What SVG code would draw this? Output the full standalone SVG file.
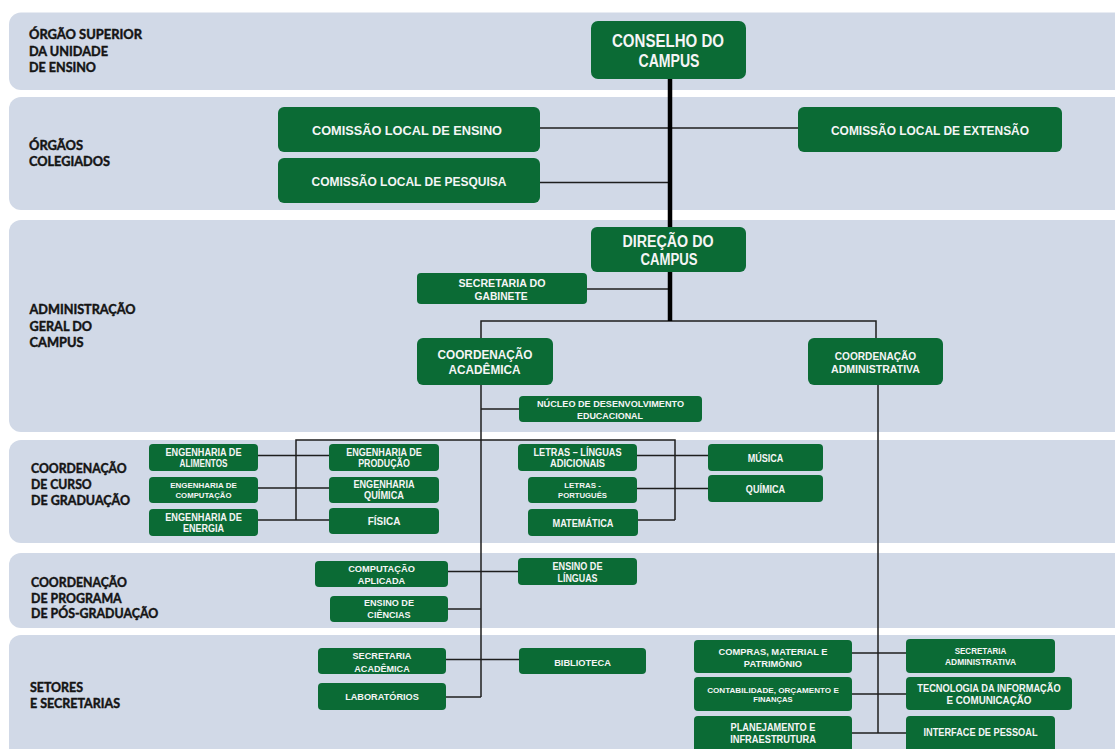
<svg xmlns="http://www.w3.org/2000/svg" width="1115" height="749" viewBox="0 0 1115 749">
<style>
.band{fill:#d1d9e7}
.box{fill:#0b6b35}
.t{font-family:"Liberation Sans",Arial,sans-serif;font-weight:bold;fill:#f5f5f5;text-anchor:middle}
.lbl{font-family:Lato,"Liberation Sans",sans-serif;font-weight:bold;font-size:13.5px;fill:#141414;stroke:#141414;stroke-width:0.45}
.c{stroke:#1e1e1e;stroke-width:1.5;fill:none}
.thick{stroke:#000;stroke-width:4.5;fill:none}
</style>
<rect width="1115" height="749" fill="#fff"/>
<g id="bands">
<rect class="band" x="9" y="12.5" width="1120" height="77.5" rx="12"/>
<rect class="band" x="9" y="97" width="1120" height="113" rx="12"/>
<rect class="band" x="9" y="220" width="1120" height="212" rx="12"/>
<rect class="band" x="9" y="440" width="1120" height="103" rx="12"/>
<rect class="band" x="9" y="553" width="1120" height="75" rx="12"/>
<rect class="band" x="9" y="635" width="1120" height="130" rx="12"/>
</g>
<g id="labels">
<text class="lbl" x="29" y="39.3" textLength="113" lengthAdjust="spacingAndGlyphs">ÓRGÃO SUPERIOR</text>
<text class="lbl" x="29" y="56" textLength="79" lengthAdjust="spacingAndGlyphs">DA UNIDADE</text>
<text class="lbl" x="29" y="71.7" textLength="67" lengthAdjust="spacingAndGlyphs">DE ENSINO</text>
<text class="lbl" x="29" y="150" textLength="54" lengthAdjust="spacingAndGlyphs">ÓRGÃOS</text>
<text class="lbl" x="29" y="166" textLength="81" lengthAdjust="spacingAndGlyphs">COLEGIADOS</text>
<text class="lbl" x="29.5" y="314.3" textLength="106" lengthAdjust="spacingAndGlyphs">ADMINISTRAÇÃO</text>
<text class="lbl" x="29.5" y="330.7" textLength="62.5" lengthAdjust="spacingAndGlyphs">GERAL DO</text>
<text class="lbl" x="29.5" y="346.7" textLength="54" lengthAdjust="spacingAndGlyphs">CAMPUS</text>
<text class="lbl" x="31" y="472.7" textLength="95.7" lengthAdjust="spacingAndGlyphs">COORDENAÇÃO</text>
<text class="lbl" x="31" y="489" textLength="60.7" lengthAdjust="spacingAndGlyphs">DE CURSO</text>
<text class="lbl" x="31" y="505" textLength="99" lengthAdjust="spacingAndGlyphs">DE GRADUAÇÃO</text>
<text class="lbl" x="31" y="586.7" textLength="96" lengthAdjust="spacingAndGlyphs">COORDENAÇÃO</text>
<text class="lbl" x="31" y="602.7" textLength="90.7" lengthAdjust="spacingAndGlyphs">DE PROGRAMA</text>
<text class="lbl" x="31" y="618.3" textLength="127.3" lengthAdjust="spacingAndGlyphs">DE PÓS-GRADUAÇÃO</text>
<text class="lbl" x="30" y="691.7" textLength="53" lengthAdjust="spacingAndGlyphs">SETORES</text>
<text class="lbl" x="30" y="707.7" textLength="90" lengthAdjust="spacingAndGlyphs">E SECRETARIAS</text>
</g>
<g id="connectors">
<line class="c" x1="540" y1="128" x2="798" y2="128"/>
<line class="c" x1="540" y1="182.5" x2="670" y2="182.5"/>
<line class="c" x1="587" y1="289" x2="670" y2="289"/>
<polyline class="c" points="481,338 481,321 876,321 876,338"/>
<line class="c" x1="481" y1="385" x2="481" y2="697"/>
<line class="c" x1="481" y1="409" x2="519" y2="409"/>
<polyline class="c" points="296,520 296,440 675,440 675,520"/>
<line class="c" x1="258" y1="455.5" x2="329" y2="455.5"/>
<line class="c" x1="258" y1="488" x2="329" y2="488"/>
<line class="c" x1="258" y1="520" x2="329" y2="520"/>
<line class="c" x1="637" y1="455.5" x2="708" y2="455.5"/>
<line class="c" x1="637" y1="488.5" x2="708" y2="488.5"/>
<line class="c" x1="638" y1="520" x2="675" y2="520"/>
<line class="c" x1="448" y1="571.5" x2="518" y2="571.5"/>
<line class="c" x1="448" y1="609" x2="481" y2="609"/>
<line class="c" x1="446" y1="659.5" x2="519" y2="659.5"/>
<line class="c" x1="446" y1="697" x2="481" y2="697"/>
<line class="c" x1="878" y1="385" x2="878" y2="733"/>
<line class="c" x1="852" y1="653" x2="906" y2="653"/>
<line class="c" x1="852" y1="694" x2="906" y2="694"/>
<line class="c" x1="852" y1="733" x2="906" y2="733"/>
<line class="thick" x1="670" y1="79" x2="670" y2="321"/>
</g>
<g id="n-conselho"><rect class="box" x="591" y="21" width="155" height="58" rx="7"/>
<text class="t" font-size="18" x="668" y="46.5" textLength="112" lengthAdjust="spacingAndGlyphs">CONSELHO DO</text>
<text class="t" font-size="18" x="669" y="66.5" textLength="61" lengthAdjust="spacingAndGlyphs">CAMPUS</text></g>
<g id="n-ensino"><rect class="box" x="278" y="107" width="262" height="45" rx="6"/>
<text class="t" font-size="12.5" x="407" y="135" textLength="190" lengthAdjust="spacingAndGlyphs">COMISSÃO LOCAL DE ENSINO</text></g>
<g id="n-pesquisa"><rect class="box" x="278" y="158" width="262" height="45" rx="6"/>
<text class="t" font-size="12.5" x="409" y="186" textLength="195" lengthAdjust="spacingAndGlyphs">COMISSÃO LOCAL DE PESQUISA</text></g>
<g id="n-extensao"><rect class="box" x="798" y="107" width="264" height="45" rx="6"/>
<text class="t" font-size="12.5" x="930" y="135" textLength="198" lengthAdjust="spacingAndGlyphs">COMISSÃO LOCAL DE EXTENSÃO</text></g>
<g id="n-direcao"><rect class="box" x="591" y="227" width="155" height="45" rx="6"/>
<text class="t" font-size="16" x="668" y="247" textLength="91" lengthAdjust="spacingAndGlyphs">DIREÇÃO DO</text>
<text class="t" font-size="16" x="669" y="265" textLength="57" lengthAdjust="spacingAndGlyphs">CAMPUS</text></g>
<g id="n-gabinete"><rect class="box" x="417" y="273" width="170" height="31" rx="4"/>
<text class="t" font-size="10" x="502" y="286.5" textLength="87" lengthAdjust="spacingAndGlyphs">SECRETARIA DO</text>
<text class="t" font-size="10" x="501" y="300" textLength="53" lengthAdjust="spacingAndGlyphs">GABINETE</text></g>
<g id="n-academica"><rect class="box" x="417" y="338" width="136" height="47" rx="6"/>
<text class="t" font-size="13" x="485" y="359.3" textLength="95" lengthAdjust="spacingAndGlyphs">COORDENAÇÃO</text>
<text class="t" font-size="13" x="484.5" y="374.3" textLength="72" lengthAdjust="spacingAndGlyphs">ACADÊMICA</text></g>
<g id="n-administrativa"><rect class="box" x="808" y="338" width="135" height="47" rx="6"/>
<text class="t" font-size="10.5" x="875.5" y="360" textLength="81.5" lengthAdjust="spacingAndGlyphs">COORDENAÇÃO</text>
<text class="t" font-size="10.5" x="875.5" y="373.3" textLength="89" lengthAdjust="spacingAndGlyphs">ADMINISTRATIVA</text></g>
<g id="n-nucleo"><rect class="box" x="519" y="396" width="183" height="26" rx="4"/>
<text class="t" font-size="9" x="610.5" y="407.3" textLength="147" lengthAdjust="spacingAndGlyphs">NÚCLEO DE DESENVOLVIMENTO</text>
<text class="t" font-size="9" x="610" y="418.7" textLength="66" lengthAdjust="spacingAndGlyphs">EDUCACIONAL</text></g>
<g id="n-eng-alimentos"><rect class="box" x="149" y="444" width="109" height="27" rx="4"/>
<text class="t" font-size="10.5" x="203.5" y="456" textLength="76" lengthAdjust="spacingAndGlyphs">ENGENHARIA DE</text>
<text class="t" font-size="10.5" x="203.5" y="467" textLength="48" lengthAdjust="spacingAndGlyphs">ALIMENTOS</text></g>
<g id="n-eng-computacao"><rect class="box" x="149" y="477" width="109" height="26" rx="4"/>
<text class="t" font-size="8" x="203.5" y="487.7" textLength="66.7" lengthAdjust="spacingAndGlyphs">ENGENHARIA DE</text>
<text class="t" font-size="8" x="203.5" y="498.3" textLength="56" lengthAdjust="spacingAndGlyphs">COMPUTAÇÃO</text></g>
<g id="n-eng-energia"><rect class="box" x="149" y="509" width="109" height="27" rx="4"/>
<text class="t" font-size="10.5" x="203.5" y="520.7" textLength="76.7" lengthAdjust="spacingAndGlyphs">ENGENHARIA DE</text>
<text class="t" font-size="10.5" x="203.5" y="531.7" textLength="41" lengthAdjust="spacingAndGlyphs">ENERGIA</text></g>
<g id="n-eng-producao"><rect class="box" x="329" y="444" width="110" height="27" rx="4"/>
<text class="t" font-size="10.5" x="384" y="456" textLength="75.7" lengthAdjust="spacingAndGlyphs">ENGENHARIA DE</text>
<text class="t" font-size="10.5" x="384" y="467" textLength="51.7" lengthAdjust="spacingAndGlyphs">PRODUÇÃO</text></g>
<g id="n-eng-quimica"><rect class="box" x="329" y="477" width="110" height="26" rx="4"/>
<text class="t" font-size="10.5" x="384" y="487.7" textLength="61" lengthAdjust="spacingAndGlyphs">ENGENHARIA</text>
<text class="t" font-size="10.5" x="384" y="499.3" textLength="40" lengthAdjust="spacingAndGlyphs">QUÍMICA</text></g>
<g id="n-fisica"><rect class="box" x="329" y="508" width="110" height="26" rx="4"/>
<text class="t" font-size="10.5" x="384" y="524.5" textLength="32.7" lengthAdjust="spacingAndGlyphs">FÍSICA</text></g>
<g id="n-letras-linguas"><rect class="box" x="518" y="444" width="119" height="27" rx="4"/>
<text class="t" font-size="10" x="577.5" y="455.7" textLength="88" lengthAdjust="spacingAndGlyphs">LETRAS – LÍNGUAS</text>
<text class="t" font-size="10" x="577.5" y="467.3" textLength="55" lengthAdjust="spacingAndGlyphs">ADICIONAIS</text></g>
<g id="n-letras-portugues"><rect class="box" x="528" y="477" width="109" height="26" rx="4"/>
<text class="t" font-size="8" x="582.5" y="488.3" textLength="36.7" lengthAdjust="spacingAndGlyphs">LETRAS -</text>
<text class="t" font-size="8" x="582.5" y="498.3" textLength="49" lengthAdjust="spacingAndGlyphs">PORTUGUÊS</text></g>
<g id="n-matematica"><rect class="box" x="528" y="509" width="110" height="27" rx="4"/>
<text class="t" font-size="10" x="583" y="526.7" textLength="61" lengthAdjust="spacingAndGlyphs">MATEMÁTICA</text></g>
<g id="n-musica"><rect class="box" x="708" y="444" width="115" height="27" rx="4"/>
<text class="t" font-size="10" x="765.5" y="462.3" textLength="35.7" lengthAdjust="spacingAndGlyphs">MÚSICA</text></g>
<g id="n-quimica"><rect class="box" x="708" y="475" width="115" height="27" rx="4"/>
<text class="t" font-size="10" x="765.5" y="492.7" textLength="39.3" lengthAdjust="spacingAndGlyphs">QUÍMICA</text></g>
<g id="n-computacao-aplicada"><rect class="box" x="315" y="561" width="133" height="26" rx="4"/>
<text class="t" font-size="9.5" x="381.5" y="571.7" textLength="66.7" lengthAdjust="spacingAndGlyphs">COMPUTAÇÃO</text>
<text class="t" font-size="9.5" x="381.5" y="584.3" textLength="47.3" lengthAdjust="spacingAndGlyphs">APLICADA</text></g>
<g id="n-ensino-ciencias"><rect class="box" x="330" y="596" width="118" height="26" rx="4"/>
<text class="t" font-size="9.5" x="389" y="606" textLength="50" lengthAdjust="spacingAndGlyphs">ENSINO DE</text>
<text class="t" font-size="9.5" x="389" y="617.7" textLength="43.3" lengthAdjust="spacingAndGlyphs">CIÊNCIAS</text></g>
<g id="n-ensino-linguas"><rect class="box" x="518" y="558" width="119" height="27" rx="4"/>
<text class="t" font-size="10" x="577.5" y="570" textLength="50" lengthAdjust="spacingAndGlyphs">ENSINO DE</text>
<text class="t" font-size="10" x="577.5" y="581.7" textLength="40" lengthAdjust="spacingAndGlyphs">LÍNGUAS</text></g>
<g id="n-secretaria-academica"><rect class="box" x="318" y="648" width="128" height="26" rx="4"/>
<text class="t" font-size="9.5" x="382" y="659.3" textLength="59" lengthAdjust="spacingAndGlyphs">SECRETARIA</text>
<text class="t" font-size="9.5" x="382" y="671.7" textLength="55.4" lengthAdjust="spacingAndGlyphs">ACADÊMICA</text></g>
<g id="n-laboratorios"><rect class="box" x="318" y="683" width="128" height="27" rx="4"/>
<text class="t" font-size="9.5" x="382" y="700" textLength="73.7" lengthAdjust="spacingAndGlyphs">LABORATÓRIOS</text></g>
<g id="n-biblioteca"><rect class="box" x="519" y="648" width="127" height="26" rx="4"/>
<text class="t" font-size="9.5" x="582.5" y="665.7" textLength="56.7" lengthAdjust="spacingAndGlyphs">BIBLIOTECA</text></g>
<g id="n-compras"><rect class="box" x="694" y="640" width="158" height="33" rx="4"/>
<text class="t" font-size="9.5" x="773" y="655" textLength="109" lengthAdjust="spacingAndGlyphs">COMPRAS, MATERIAL E</text>
<text class="t" font-size="9.5" x="773" y="666.7" textLength="58.3" lengthAdjust="spacingAndGlyphs">PATRIMÔNIO</text></g>
<g id="n-contabilidade"><rect class="box" x="694" y="677" width="158" height="34" rx="4"/>
<text class="t" font-size="7.5" x="773" y="692.7" textLength="131.7" lengthAdjust="spacingAndGlyphs">CONTABILIDADE, ORÇAMENTO E</text>
<text class="t" font-size="7.5" x="773" y="701.7" textLength="39.3" lengthAdjust="spacingAndGlyphs">FINANÇAS</text></g>
<g id="n-planejamento"><rect class="box" x="694" y="716" width="158" height="45" rx="4"/>
<text class="t" font-size="10" x="773" y="731" textLength="85" lengthAdjust="spacingAndGlyphs">PLANEJAMENTO E</text>
<text class="t" font-size="10" x="773" y="742.7" textLength="85.7" lengthAdjust="spacingAndGlyphs">INFRAESTRUTURA</text></g>
<g id="n-secretaria-administrativa"><rect class="box" x="906" y="639" width="149" height="34" rx="4"/>
<text class="t" font-size="9.5" x="980.5" y="654" textLength="51.7" lengthAdjust="spacingAndGlyphs">SECRETARIA</text>
<text class="t" font-size="9.5" x="980.5" y="665" textLength="71" lengthAdjust="spacingAndGlyphs">ADMINISTRATIVA</text></g>
<g id="n-tecnologia"><rect class="box" x="906" y="677" width="166" height="33" rx="4"/>
<text class="t" font-size="10" x="989" y="691.7" textLength="143.3" lengthAdjust="spacingAndGlyphs">TECNOLOGIA DA INFORMAÇÃO</text>
<text class="t" font-size="10" x="989" y="704" textLength="85" lengthAdjust="spacingAndGlyphs">E COMUNICAÇÃO</text></g>
<g id="n-interface"><rect class="box" x="906" y="716" width="149" height="45" rx="4"/>
<text class="t" font-size="10" x="980.5" y="736" textLength="114" lengthAdjust="spacingAndGlyphs">INTERFACE DE PESSOAL</text></g>
</svg>
